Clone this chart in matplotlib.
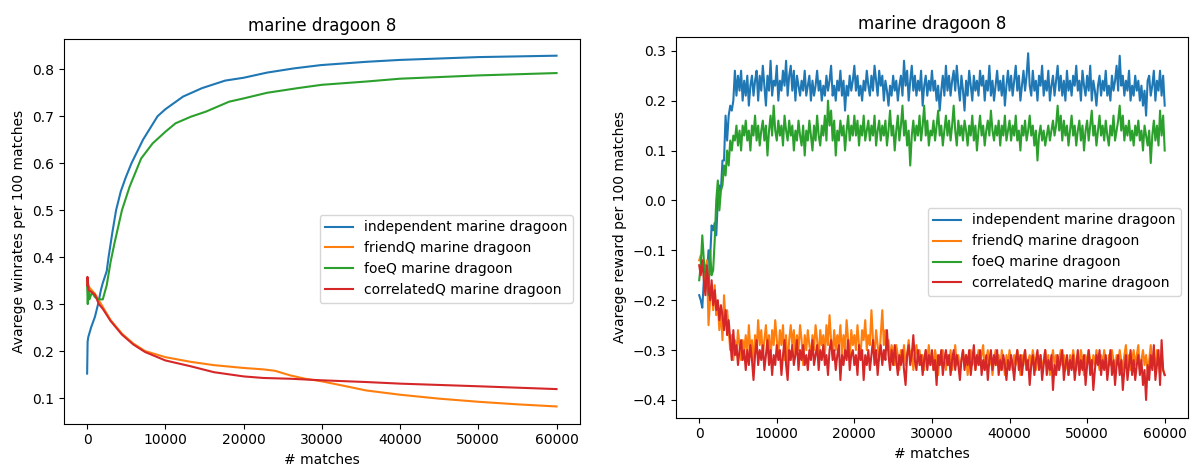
import numpy as np
import matplotlib
matplotlib.use("Agg")
import matplotlib.pyplot as plt

labels = ["independent marine dragoon", "friendQ marine dragoon",
          "foeQ marine dragoon", "correlatedQ marine dragoon"]
title = "marine dragoon 8"

# ---------- left chart: average winrates ----------
ind_wr_x = [0, 60, 150, 500, 1000, 1400, 1760, 2000, 2500, 2740, 3200, 3700, 4300, 4940, 5670, 7140,
            9000, 10000, 12270, 14700, 17650, 20000, 23000, 26450, 29900, 35700, 40000, 50000, 60000]
ind_wr_y = [0.152, 0.22, 0.23, 0.25, 0.273, 0.30, 0.33, 0.345, 0.37, 0.40, 0.45, 0.50, 0.54, 0.57,
            0.60, 0.65, 0.70, 0.715, 0.742, 0.76, 0.776, 0.782, 0.793, 0.802, 0.809, 0.816, 0.82,
            0.826, 0.829]

friend_wr_x = [0, 300, 1000, 2000, 3000, 4450, 5900, 7400, 10000, 13250, 16200, 20000, 22500, 24000,
               26000, 27900, 30000, 32800, 35700, 40000, 45000, 50000, 55000, 60000]
friend_wr_y = [0.345, 0.335, 0.322, 0.294, 0.266, 0.237, 0.216, 0.200, 0.187, 0.177, 0.170, 0.164,
               0.161, 0.158, 0.148, 0.141, 0.1355, 0.126, 0.116, 0.107, 0.0986, 0.092, 0.0865, 0.082]

foe_wr_x = [0, 80, 150, 300, 600, 1000, 1500, 2000, 2500, 3000, 3500, 4450, 5430, 6900, 8360, 10000,
            11300, 13250, 15200, 18140, 20000, 23000, 26950, 30000, 35700, 40000, 50000, 60000]
foe_wr_y = [0.34, 0.30, 0.33, 0.31, 0.325, 0.315, 0.31, 0.31, 0.34, 0.39, 0.43, 0.50, 0.55, 0.61,
            0.642, 0.667, 0.685, 0.699, 0.710, 0.731, 0.738, 0.750, 0.760, 0.767, 0.774, 0.780, 0.787, 0.792]

corr_wr_x = [0, 40, 200, 600, 1000, 1500, 2000, 3000, 4450, 5900, 7400, 10000, 13250, 16200, 20000,
             22500, 26000, 30000, 35700, 40000, 50000, 60000]
corr_wr_y = [0.34, 0.358, 0.33, 0.325, 0.32, 0.30, 0.29, 0.264, 0.235, 0.214, 0.198, 0.180, 0.1675,
             0.155, 0.146, 0.1427, 0.141, 0.1377, 0.134, 0.1306, 0.125, 0.119]

# ---------- right chart: average reward (sampled every 200 matches) ----------
matches = list(range(0, 60001, 200))

ind_rw = [
    -0.19, -0.20, -0.215, -0.16, -0.13, -0.15, -0.10, -0.12, -0.05, -0.06,
    -0.045, -0.07, 0.00, 0.03, 0.02, 0.08, 0.08, 0.17, 0.12, 0.17,
    0.19, 0.18, 0.20, 0.26, 0.21, 0.25, 0.22, 0.26, 0.20, 0.24,
    0.21, 0.25, 0.19, 0.23, 0.25, 0.21, 0.24, 0.26, 0.20, 0.25,
    0.22, 0.27, 0.23, 0.19, 0.25, 0.22, 0.28, 0.21, 0.24, 0.23,
    0.27, 0.20, 0.24, 0.22, 0.26, 0.23, 0.28, 0.21, 0.25, 0.27,
    0.22, 0.26, 0.20, 0.25, 0.23, 0.21, 0.24, 0.22, 0.26, 0.21,
    0.23, 0.25, 0.20, 0.24, 0.21, 0.23, 0.26, 0.22, 0.24, 0.20,
    0.23, 0.21, 0.25, 0.22, 0.24, 0.27, 0.21, 0.23, 0.20, 0.24,
    0.22, 0.26, 0.21, 0.24, 0.18, 0.23, 0.21, 0.25, 0.22, 0.24,
    0.27, 0.22, 0.25, 0.21, 0.23, 0.20, 0.24, 0.22, 0.26, 0.23,
    0.21, 0.25, 0.22, 0.27, 0.24, 0.21, 0.26, 0.23, 0.25, 0.20,
    0.24, 0.22, 0.19, 0.23, 0.21, 0.25, 0.22, 0.24, 0.20, 0.23,
    0.25, 0.21, 0.28, 0.23, 0.26, 0.20, 0.24, 0.27, 0.22, 0.25,
    0.21, 0.24, 0.22, 0.26, 0.19, 0.23, 0.25, 0.21, 0.24, 0.22,
    0.26, 0.22, 0.24, 0.20, 0.23, 0.18, 0.22, 0.25, 0.21, 0.27,
    0.22, 0.25, 0.21, 0.24, 0.26, 0.22, 0.27, 0.23, 0.20, 0.25,
    0.22, 0.18, 0.24, 0.21, 0.26, 0.23, 0.20, 0.25, 0.22, 0.24,
    0.21, 0.26, 0.23, 0.25, 0.20, 0.24, 0.22, 0.27, 0.21, 0.24,
    0.20, 0.23, 0.26, 0.22, 0.24, 0.21, 0.25, 0.19, 0.23, 0.26,
    0.22, 0.25, 0.21, 0.24, 0.27, 0.22, 0.25, 0.20, 0.23, 0.26,
    0.22, 0.25, 0.295, 0.23, 0.21, 0.26, 0.22, 0.24, 0.20, 0.25,
    0.23, 0.27, 0.21, 0.24, 0.22, 0.26, 0.20, 0.23, 0.25, 0.21,
    0.24, 0.27, 0.22, 0.25, 0.21, 0.24, 0.20, 0.26, 0.22, 0.24,
    0.21, 0.25, 0.23, 0.27, 0.22, 0.24, 0.20, 0.26, 0.23, 0.21,
    0.25, 0.22, 0.27, 0.20, 0.24, 0.22, 0.19, 0.23, 0.25, 0.21,
    0.24, 0.22, 0.26, 0.21, 0.23, 0.20, 0.25, 0.22, 0.24, 0.27,
    0.22, 0.29, 0.23, 0.25, 0.21, 0.24, 0.22, 0.26, 0.20, 0.23,
    0.21, 0.25, 0.22, 0.24, 0.20, 0.23, 0.19, 0.22, 0.17, 0.24,
    0.25, 0.21, 0.23, 0.26, 0.20, 0.24, 0.22, 0.26, 0.21, 0.25,
    0.19]

friend_rw = [
    -0.12, -0.11, -0.14, -0.12, -0.16, -0.12, -0.25, -0.20, -0.17, -0.22,
    -0.17, -0.23, -0.21, -0.26, -0.22, -0.28, -0.19, -0.24, -0.22, -0.26,
    -0.30, -0.27, -0.32, -0.28, -0.31, -0.26, -0.29, -0.32, -0.28, -0.30,
    -0.27, -0.31, -0.25, -0.30, -0.28, -0.33, -0.27, -0.30, -0.24, -0.29,
    -0.26, -0.31, -0.28, -0.25, -0.30, -0.27, -0.32, -0.26, -0.29, -0.24,
    -0.28, -0.31, -0.26, -0.29, -0.25, -0.32, -0.27, -0.34, -0.28, -0.25,
    -0.29, -0.26, -0.31, -0.27, -0.30, -0.25, -0.28, -0.33, -0.27, -0.30,
    -0.26, -0.29, -0.31, -0.27, -0.30, -0.25, -0.28, -0.32, -0.26, -0.29,
    -0.27, -0.31, -0.25, -0.29, -0.23, -0.28, -0.31, -0.26, -0.30, -0.27,
    -0.29, -0.25, -0.31, -0.27, -0.30, -0.24, -0.28, -0.32, -0.26, -0.29,
    -0.27, -0.30, -0.25, -0.29, -0.31, -0.26, -0.28, -0.24, -0.30, -0.27,
    -0.29, -0.22, -0.28, -0.31, -0.26, -0.29, -0.32, -0.27, -0.22, -0.29,
    -0.26, -0.30, -0.28, -0.32, -0.29, -0.31, -0.33, -0.29, -0.31, -0.34,
    -0.30, -0.32, -0.29, -0.33, -0.31, -0.28, -0.32, -0.30, -0.34, -0.31,
    -0.29, -0.32, -0.30, -0.33, -0.31, -0.34, -0.30, -0.32, -0.29, -0.33,
    -0.31, -0.34, -0.30, -0.32, -0.35, -0.31, -0.33, -0.30, -0.32, -0.34,
    -0.31, -0.33, -0.30, -0.34, -0.32, -0.29, -0.33, -0.31, -0.34, -0.32,
    -0.30, -0.33, -0.31, -0.35, -0.32, -0.30, -0.33, -0.31, -0.34, -0.32,
    -0.30, -0.33, -0.31, -0.29, -0.34, -0.32, -0.30, -0.33, -0.31, -0.35,
    -0.32, -0.30, -0.33, -0.31, -0.34, -0.30, -0.32, -0.35, -0.31, -0.33,
    -0.30, -0.32, -0.34, -0.31, -0.33, -0.30, -0.32, -0.35, -0.31, -0.33,
    -0.30, -0.34, -0.32, -0.31, -0.33, -0.30, -0.32, -0.34, -0.31, -0.33,
    -0.31, -0.34, -0.32, -0.30, -0.33, -0.31, -0.35, -0.32, -0.30, -0.33,
    -0.31, -0.34, -0.32, -0.30, -0.33, -0.31, -0.34, -0.32, -0.35, -0.31,
    -0.33, -0.30, -0.32, -0.34, -0.31, -0.33, -0.30, -0.32, -0.35, -0.31,
    -0.33, -0.30, -0.32, -0.34, -0.31, -0.33, -0.30, -0.32, -0.34, -0.31,
    -0.33, -0.30, -0.32, -0.35, -0.31, -0.33, -0.30, -0.32, -0.34, -0.31,
    -0.33, -0.30, -0.32, -0.34, -0.31, -0.29, -0.33, -0.31, -0.34, -0.32,
    -0.30, -0.33, -0.31, -0.29, -0.34, -0.32, -0.30, -0.33, -0.31, -0.34,
    -0.32, -0.29, -0.33, -0.31, -0.34, -0.30, -0.32, -0.35, -0.31, -0.34,
    -0.35]

foe_rw = [
    -0.16, -0.13, -0.07, -0.12, -0.15, -0.17, -0.19, -0.10, -0.15, -0.14,
    -0.08, 0.00, 0.04, -0.02, 0.02, 0.03, 0.07, 0.05, 0.10, 0.07,
    0.12, 0.10, 0.13, 0.12, 0.15, 0.11, 0.14, 0.10, 0.15, 0.13,
    0.16, 0.12, 0.14, 0.10, 0.15, 0.13, 0.17, 0.12, 0.15, 0.11,
    0.14, 0.16, 0.12, 0.15, 0.09, 0.14, 0.17, 0.13, 0.19, 0.14,
    0.12, 0.16, 0.13, 0.15, 0.11, 0.17, 0.14, 0.12, 0.16, 0.13,
    0.15, 0.10, 0.14, 0.12, 0.16, 0.13, 0.11, 0.15, 0.09, 0.14,
    0.12, 0.16, 0.13, 0.10, 0.15, 0.12, 0.17, 0.13, 0.11, 0.15,
    0.13, 0.17, 0.12, 0.20, 0.15, 0.18, 0.12, 0.16, 0.09, 0.14,
    0.12, 0.16, 0.13, 0.15, 0.10, 0.14, 0.17, 0.12, 0.15, 0.13,
    0.17, 0.13, 0.16, 0.11, 0.15, 0.13, 0.17, 0.12, 0.14, 0.16,
    0.12, 0.15, 0.13, 0.17, 0.11, 0.14, 0.16, 0.12, 0.15, 0.13,
    0.16, 0.11, 0.14, 0.18, 0.13, 0.15, 0.10, 0.14, 0.17, 0.12,
    0.15, 0.19, 0.13, 0.16, 0.11, 0.14, 0.07, 0.13, 0.16, 0.12,
    0.15, 0.13, 0.17, 0.12, 0.15, 0.19, 0.13, 0.16, 0.11, 0.14,
    0.13, 0.16, 0.12, 0.15, 0.18, 0.13, 0.15, 0.11, 0.14, 0.17,
    0.13, 0.16, 0.12, 0.15, 0.19, 0.14, 0.11, 0.16, 0.13, 0.15,
    0.12, 0.16, 0.14, 0.11, 0.15, 0.13, 0.17, 0.12, 0.15, 0.10,
    0.14, 0.17, 0.13, 0.15, 0.11, 0.14, 0.16, 0.13, 0.18, 0.14,
    0.12, 0.15, 0.13, 0.16, 0.11, 0.15, 0.13, 0.17, 0.12, 0.14,
    0.16, 0.12, 0.15, 0.13, 0.17, 0.12, 0.14, 0.10, 0.15, 0.13,
    0.16, 0.12, 0.14, 0.17, 0.13, 0.15, 0.11, 0.14, 0.08, 0.13,
    0.15, 0.12, 0.14, 0.11, 0.13, 0.15, 0.12, 0.14, 0.16, 0.13,
    0.15, 0.19, 0.14, 0.17, 0.12, 0.16, 0.13, 0.15, 0.11, 0.14,
    0.17, 0.13, 0.15, 0.11, 0.14, 0.16, 0.12, 0.15, 0.10, 0.14,
    0.16, 0.12, 0.15, 0.18, 0.13, 0.15, 0.11, 0.14, 0.17, 0.13,
    0.15, 0.12, 0.16, 0.13, 0.11, 0.15, 0.13, 0.17, 0.12, 0.14,
    0.16, 0.19, 0.14, 0.17, 0.12, 0.15, 0.13, 0.16, 0.12, 0.14,
    0.11, 0.15, 0.13, 0.16, 0.12, 0.14, 0.10, 0.15, 0.13, 0.11,
    0.14, 0.075, 0.13, 0.16, 0.12, 0.15, 0.11, 0.18, 0.13, 0.17,
    0.10]

corr_rw = [
    -0.13, -0.15, -0.12, -0.16, -0.19, -0.13, -0.17, -0.20, -0.16, -0.21,
    -0.18, -0.22, -0.20, -0.24, -0.21, -0.23, -0.26, -0.22, -0.27, -0.24,
    -0.28, -0.32, -0.26, -0.31, -0.29, -0.33, -0.30, -0.28, -0.32, -0.30,
    -0.34, -0.30, -0.33, -0.29, -0.32, -0.36, -0.31, -0.28, -0.33, -0.30,
    -0.32, -0.29, -0.34, -0.31, -0.28, -0.33, -0.30, -0.35, -0.31, -0.33,
    -0.29, -0.32, -0.30, -0.35, -0.31, -0.28, -0.33, -0.36, -0.30, -0.32,
    -0.29, -0.33, -0.31, -0.28, -0.34, -0.30, -0.32, -0.29, -0.33, -0.31,
    -0.34, -0.30, -0.32, -0.28, -0.33, -0.31, -0.29, -0.34, -0.30, -0.32,
    -0.29, -0.33, -0.31, -0.35, -0.30, -0.28, -0.32, -0.30, -0.34, -0.31,
    -0.29, -0.36, -0.31, -0.33, -0.30, -0.32, -0.28, -0.34, -0.31, -0.30,
    -0.33, -0.31, -0.35, -0.29, -0.32, -0.30, -0.36, -0.31, -0.33, -0.30,
    -0.34, -0.31, -0.28, -0.33, -0.30, -0.35, -0.31, -0.29, -0.33, -0.30,
    -0.32, -0.26, -0.31, -0.34, -0.30, -0.33, -0.29, -0.32, -0.35, -0.31,
    -0.33, -0.30, -0.34, -0.37, -0.31, -0.29, -0.33, -0.31, -0.27, -0.32,
    -0.34, -0.30, -0.33, -0.31, -0.35, -0.32, -0.30, -0.34, -0.31, -0.33,
    -0.30, -0.34, -0.32, -0.37, -0.31, -0.33, -0.30, -0.35, -0.32, -0.30,
    -0.33, -0.31, -0.35, -0.32, -0.30, -0.34, -0.31, -0.33, -0.36, -0.32,
    -0.30, -0.34, -0.31, -0.33, -0.30, -0.35, -0.32, -0.29, -0.34, -0.31,
    -0.33, -0.30, -0.35, -0.32, -0.34, -0.31, -0.36, -0.32, -0.30, -0.34,
    -0.31, -0.33, -0.30, -0.35, -0.32, -0.34, -0.31, -0.33, -0.36, -0.32,
    -0.34, -0.31, -0.33, -0.36, -0.32, -0.30, -0.34, -0.31, -0.35, -0.32,
    -0.30, -0.34, -0.32, -0.37, -0.33, -0.31, -0.35, -0.32, -0.30, -0.34,
    -0.31, -0.36, -0.33, -0.30, -0.35, -0.32, -0.34, -0.31, -0.38, -0.33,
    -0.35, -0.31, -0.34, -0.32, -0.30, -0.36, -0.33, -0.31, -0.35, -0.32,
    -0.34, -0.31, -0.36, -0.33, -0.30, -0.35, -0.32, -0.34, -0.31, -0.37,
    -0.33, -0.30, -0.35, -0.32, -0.38, -0.34, -0.31, -0.33, -0.30, -0.35,
    -0.32, -0.34, -0.31, -0.36, -0.33, -0.30, -0.35, -0.32, -0.37, -0.33,
    -0.31, -0.35, -0.32, -0.38, -0.34, -0.31, -0.36, -0.33, -0.30, -0.35,
    -0.32, -0.36, -0.33, -0.31, -0.35, -0.32, -0.37, -0.34, -0.40, -0.33,
    -0.36, -0.31, -0.34, -0.29, -0.36, -0.33, -0.30, -0.37, -0.28, -0.34,
    -0.35]

fig = plt.figure(figsize=(11.9, 4.69), dpi=100)
ax1 = fig.add_axes([0.0535, 0.0966, 0.4339, 0.8202])
ax2 = fig.add_axes([0.568, 0.1094, 0.4303, 0.8111])

ax1.plot(ind_wr_x, ind_wr_y, label=labels[0])
ax1.plot(friend_wr_x, friend_wr_y, label=labels[1])
ax1.plot(foe_wr_x, foe_wr_y, label=labels[2])
ax1.plot(corr_wr_x, corr_wr_y, label=labels[3])
ax1.set_xlim(-3000, 63000)
ax1.set_ylim(0.0453, 0.8645)
ax1.set_title(title, fontsize=12)
ax1.set_xlabel("# matches")
ax1.set_ylabel("Avarege winrates per 100 matches")
ax1.legend(loc="upper right", bbox_to_anchor=(1.0, 0.561))

ax2.plot(matches, ind_rw, label=labels[0])
ax2.plot(matches, friend_rw, label=labels[1])
ax2.plot(matches, foe_rw, label=labels[2])
ax2.plot(matches, corr_rw, label=labels[3])
ax2.set_xlim(-3000, 63000)
ax2.set_ylim(-0.4355, 0.327)
ax2.set_title(title, fontsize=12)
ax2.set_xlabel("# matches")
ax2.set_ylabel("Avarege reward per 100 matches")
ax2.legend(loc="upper right", bbox_to_anchor=(1.0, 0.5697))

fig.savefig("out.png", dpi=100)
